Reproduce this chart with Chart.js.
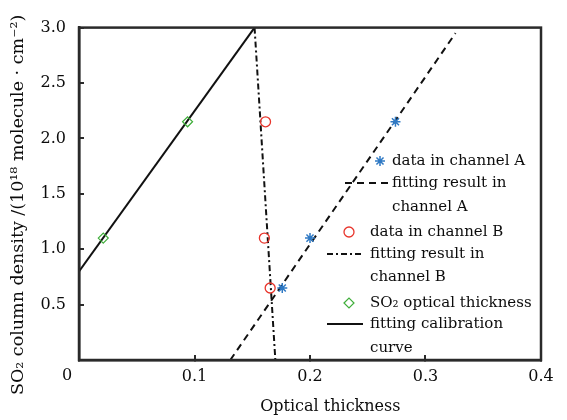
<!DOCTYPE html>
<html>
<head>
<meta charset="utf-8">
<script src="https://cdn.jsdelivr.net/npm/chart.js@4/dist/chart.umd.min.js"></script>
<style>
  html, body { margin: 0; padding: 0; background: #fff; }
  #wrap { width: 567px; height: 420px; }
</style>
</head>
<body>
<div id="wrap"><canvas id="myChart" width="567" height="420"></canvas></div>
<script>
// measured points
const aX = [0.176, 0.200, 0.274];
const aY = [0.65, 1.10, 2.15];
const bX = [0.1655, 0.1605, 0.1615];
const bY = [0.65, 1.10, 2.15];
const so2X = [0.021, 0.094];
const so2Y = [1.10, 2.15];
// fitted lines (end points)
const fitAX = [0.131, 0.326];
const fitAY = [0, 2.95];
const fitBX = [0.152, 0.170];
const fitBY = [3.0, 0];
const calX = [0, 0.152];
const calY = [0.80, 3.0];
const xTicks = [0, 0.1, 0.2, 0.3, 0.4];
const yTicks = [0.5, 1.0, 1.5, 2.0, 2.5, 3.0];

const serif = "'DejaVu Serif', serif";
const ink = "#0c0c0c";

function pts(xs, ys) {
    return xs.map((x, i) => ({x: x, y: ys[i]}));
}

// legend drawn by hand, because labels wrap onto two lines
const legendItems = [
    {ds: 0, sx: 380, tx: 392, lines: [[161, "data in channel A"]]},
    {ds: 1, sx0: 345, sx1: 389, tx: 392, lines: [[183, "fitting result in"], [207, "channel A"]]},
    {ds: 2, sx: 349, tx: 370, lines: [[232, "data in channel B"]]},
    {ds: 3, sx0: 327, sx1: 363, tx: 370, lines: [[254, "fitting result in"], [277, "channel B"]]},
    {ds: 4, sx: 349, tx: 370, lines: [[303, "SO\u2082 optical thickness"]]},
    {ds: 5, sx0: 327, sx1: 363, tx: 370, lines: [[324, "fitting calibration"], [348, "curve"]]}
];

const framePlugin = {
    id: "frame",
    afterDraw(chart) {
        const ctx = chart.ctx;
        const a = chart.chartArea;
        ctx.save();
        ctx.strokeStyle = "#2a2a2a";
        ctx.lineWidth = 2.5;
        ctx.strokeRect(a.left, a.top, a.right - a.left, a.bottom - a.top);

        ctx.font = "15px " + serif;
        ctx.textBaseline = "middle";
        legendItems.forEach(item => {
            const ds = chart.data.datasets[item.ds];
            const y0 = item.lines[0][0];
            if (item.sx !== undefined) {
                ctx.strokeStyle = ds.borderColor;
                ctx.fillStyle = ds.backgroundColor;
                ctx.lineWidth = ds.pointBorderWidth;
                Chart.helpers.drawPoint(ctx, {
                    pointStyle: ds.pointStyle,
                    radius: ds.pointRadius,
                    borderWidth: ds.pointBorderWidth,
                    rotation: 0
                }, item.sx, y0);
            } else {
                ctx.beginPath();
                ctx.setLineDash(ds.borderDash || []);
                ctx.strokeStyle = ds.borderColor;
                ctx.lineWidth = ds.borderWidth;
                ctx.moveTo(item.sx0, y0);
                ctx.lineTo(item.sx1, y0);
                ctx.stroke();
                ctx.setLineDash([]);
            }
            ctx.fillStyle = ink;
            item.lines.forEach(l => ctx.fillText(l[1], item.tx, l[0]));
        });
        // shared origin label
        const x0 = chart.scales.x.getPixelForValue(0);
        ctx.textAlign = "center";
        ctx.font = "16px " + serif;
        ctx.fillText("0", x0 - 12, a.bottom + 16);
        ctx.restore();
    }
};

let myChart = new Chart("myChart", {
    type: "scatter",
    data: {
        datasets: [
            {
                label: "data in channel A",
                data: pts(aX, aY),
                pointStyle: "star",
                pointRadius: 5,
                pointBorderWidth: 1.5,
                borderColor: "#2f79c4",
                backgroundColor: "#2f79c4"
            },
            {
                label: "fitting result in channel A",
                data: pts(fitAX, fitAY),
                showLine: true,
                pointRadius: 0,
                borderColor: "#111",
                borderWidth: 2,
                borderDash: [7, 5]
            },
            {
                label: "data in channel B",
                data: pts(bX, bY),
                pointStyle: "circle",
                pointRadius: 5,
                pointBorderWidth: 1.3,
                borderColor: "#e8352c",
                backgroundColor: "rgba(0,0,0,0)"
            },
            {
                label: "fitting result in channel B",
                data: pts(fitBX, fitBY),
                showLine: true,
                pointRadius: 0,
                borderColor: "#111",
                borderWidth: 2,
                borderDash: [6, 3, 2, 3]
            },
            {
                label: "SO2 optical thickness",
                data: pts(so2X, so2Y),
                pointStyle: "rectRot",
                pointRadius: 5,
                pointBorderWidth: 1.2,
                borderColor: "#3fae3a",
                backgroundColor: "rgba(0,0,0,0)"
            },
            {
                label: "fitting calibration curve",
                data: pts(calX, calY),
                showLine: true,
                pointRadius: 0,
                borderColor: "#111",
                borderWidth: 2
            }
        ]
    },
    options: {
        responsive: false,
        animation: false,
        layout: {padding: {top: 16, right: 26, left: 0, bottom: 0}},
        plugins: {
            legend: {display: false},
            tooltip: {enabled: false}
        },
        scales: {
            x: {
                type: "linear",
                min: 0,
                max: 0.4,
                afterBuildTicks: s => { s.ticks = xTicks.map(v => ({value: v})); },
                afterFit: s => { s.height = 60; },
                grid: {drawOnChartArea: false, tickLength: -5, color: "#2a2a2a", lineWidth: 2},
                border: {color: "#2a2a2a", width: 2.5},
                ticks: {
                    color: ink,
                    font: {family: serif, size: 16},
                    padding: 12,
                    maxRotation: 0,
                    callback: v => v === 0 ? "" : v.toFixed(1)
                },
                title: {
                    display: true,
                    text: "        Optical thickness",
                    color: ink,
                    font: {family: serif, size: 16},
                    padding: {top: 4}
                }
            },
            y: {
                type: "linear",
                min: 0,
                max: 3.0,
                afterBuildTicks: s => { s.ticks = yTicks.map(v => ({value: v})); },
                afterFit: s => { s.width = 79; },
                grid: {drawOnChartArea: false, tickLength: -5, color: "#2a2a2a", lineWidth: 2},
                border: {color: "#2a2a2a", width: 2.5},
                ticks: {
                    color: ink,
                    font: {family: serif, size: 16},
                    padding: 18,
                    callback: v => v.toFixed(1)
                },
                title: {
                    display: true,
                    text: "SO\u2082 column density /(10\u00b9\u2078 molecule \u00b7 cm\u207b\u00b2)    ",
                    color: ink,
                    font: {family: serif, size: 17.5},
                    padding: {top: 8, bottom: 0}
                }
            }
        }
    },
    plugins: [framePlugin]
});
</script>
</body>
</html>
